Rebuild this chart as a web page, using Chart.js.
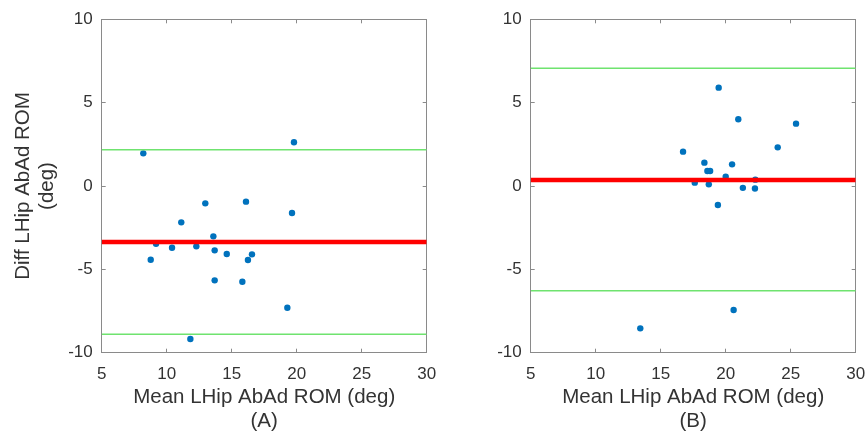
<!DOCTYPE html>
<html><head><meta charset="utf-8">
<script src="https://cdn.jsdelivr.net/npm/chart.js@4"></script>
<style>
html,body{margin:0;padding:0;background:#fff;width:868px;height:433px;overflow:hidden}
#a{position:absolute;left:0;top:0}
#b{position:absolute;left:440px;top:0}
</style></head><body>
<canvas id="a" width="440" height="433"></canvas>
<canvas id="b" width="428" height="433"></canvas>
<script>
const xRange = [5, 30];
const yRange = [-10, 10];
const xTicks = [5, 10, 15, 20, 25, 30];
const yTicks = [-10, -5, 0, 5, 10];

const meanA = [8.20, 19.79, 12.97, 16.10, 19.64, 11.12, 13.59, 9.18, 10.41, 12.28, 13.69, 14.62, 16.56, 16.25, 8.77, 13.69, 15.82, 19.28, 11.82];
const diffA = [1.96, 2.62, -1.04, -0.94, -1.62, -2.18, -3.02, -3.46, -3.70, -3.62, -3.86, -4.08, -4.10, -4.44, -4.42, -5.66, -5.74, -7.30, -9.18];
const biasA = -3.36, upperA = 2.18, lowerA = -8.90;

const meanB = [19.46, 20.97, 16.72, 18.36, 20.49, 18.59, 18.80, 20.00, 22.28, 17.62, 18.70, 21.32, 22.25, 19.40, 13.43, 20.61, 24.00, 25.41];
const diffB = [5.90, 4.00, 2.06, 1.40, 1.30, 0.90, 0.90, 0.56, 0.38, 0.20, 0.10, -0.11, -0.15, -1.14, -8.54, -7.44, 2.32, 3.74];
const biasB = 0.36, upperB = 7.06, lowerB = -6.28;

const xTitle = 'Mean LHip AbAd ROM (deg)';
const yTitle = ['Diff LHip AbAd ROM', '(deg)'];

const FAM = "'Liberation Sans', Arial, sans-serif";
const axisColor = '#8a8a8a';
const textColor = '#333333';

function hline(v, color, width) {
  return {type: 'line', data: [{x: xRange[0], y: v}, {x: xRange[1], y: v}], borderColor: color, borderWidth: width,
    pointRadius: 0, fill: false, order: 0, borderCapStyle: 'butt'};
}

function zeroPad(s) { s.paddingLeft = 0; s.paddingRight = 0; s.paddingTop = 0; s.paddingBottom = 0; }

function makeChart(id, means, diffs, bias, upper, lower, panel, showY, yAxisW, padRight) {
  const pts = means.map((m, i) => ({x: m, y: diffs[i]}));
  const gridOpts = {drawOnChartArea: false, tickLength: -4, color: axisColor, tickWidth: 1};
  const borderOpts = {color: axisColor, width: 1};
  const setX = s => { s.ticks = xTicks.map(v => ({value: v})); };
  const setY = s => { s.ticks = yTicks.map(v => ({value: v})); };
  new Chart(document.getElementById(id), {
    data: {datasets: [
      hline(bias, '#ff0000', 4.5),
      hline(upper, '#6fe36f', 1.5),
      hline(lower, '#6fe36f', 1.5),
      {type: 'scatter', data: pts, backgroundColor: '#0072BD', borderWidth: 0, pointRadius: 3.2, order: 1}
    ]},
    options: {
      responsive: false, animation: false,
      layout: {padding: {left: 0, top: 19.3, right: padRight, bottom: 0}},
      plugins: {legend: {display: false}, tooltip: {enabled: false}},
      scales: {
        x: {type: 'linear', position: 'bottom', min: xRange[0], max: xRange[1], afterBuildTicks: setX,
          ticks: {autoSkip: false, maxRotation: 0, padding: 15, color: textColor, font: {family: FAM, size: 17}},
          grid: gridOpts, border: borderOpts,
          title: {display: true, text: [xTitle, '(' + panel + ')'], color: textColor,
            font: {family: FAM, size: 20.5, lineHeight: 1.15}, padding: {top: 0, bottom: 0}},
          afterFit: s => { s.height = 80.3; zeroPad(s); }},
        y: {type: 'linear', position: 'left', min: yRange[0], max: yRange[1], afterBuildTicks: setY,
          ticks: {autoSkip: false, padding: 13, color: textColor, font: {family: FAM, size: 17}},
          grid: gridOpts, border: borderOpts,
          title: {display: showY, text: yTitle, color: textColor,
            font: {family: FAM, size: 20.5, lineHeight: 1.15}, padding: {top: 12, bottom: 0}},
          afterFit: s => { s.width = yAxisW; zeroPad(s); }},
        x2: {type: 'linear', position: 'top', min: xRange[0], max: xRange[1], afterBuildTicks: setX,
          ticks: {display: false}, grid: gridOpts, border: borderOpts,
          afterFit: s => { s.height = 0; zeroPad(s); }},
        y2: {type: 'linear', position: 'right', min: yRange[0], max: yRange[1], afterBuildTicks: setY,
          ticks: {display: false}, grid: gridOpts, border: borderOpts,
          afterFit: s => { s.width = 0; zeroPad(s); }}
      }
    }
  });
}

makeChart('a', meanA, diffA, biasA, upperA, lowerA, 'A', true, 101.7, 13.3);
makeChart('b', meanB, diffB, biasB, upperB, lowerB, 'B', false, 90.7, 12.3);
</script>
</body></html>
